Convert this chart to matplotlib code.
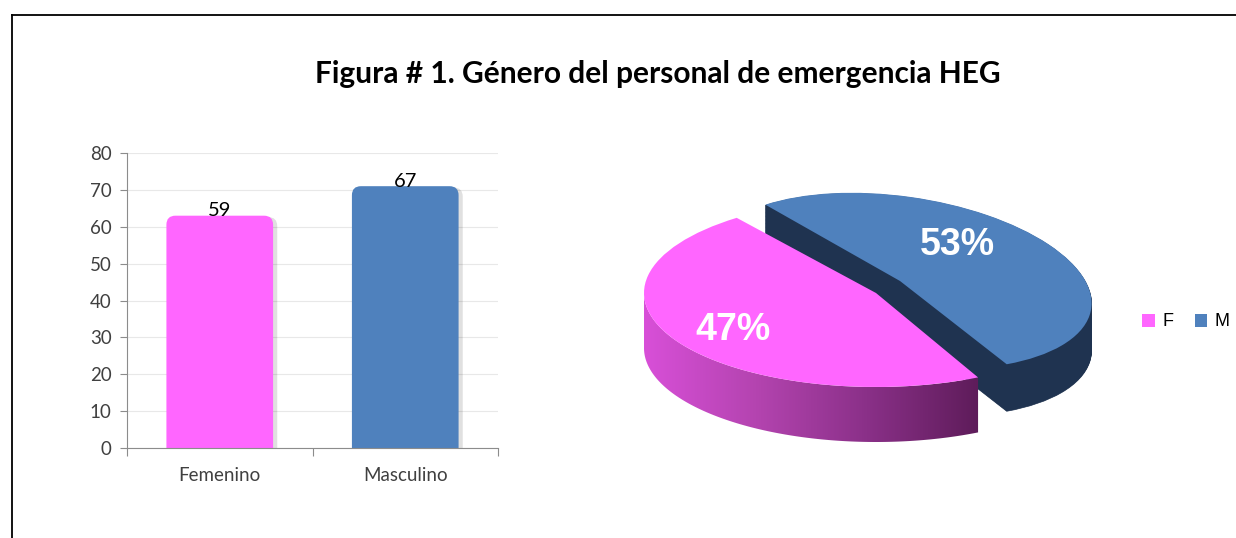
import numpy as np
import matplotlib
matplotlib.use("Agg")
import matplotlib.pyplot as plt
from matplotlib.patches import FancyBboxPatch, Wedge, Polygon
from matplotlib.lines import Line2D
from matplotlib.colors import LinearSegmentedColormap
from matplotlib.transforms import Affine2D
import matplotlib.patheffects as pe

# ---- data ----
title = "Figura # 1. Género del personal de emergencia HEG"
categories = ["Femenino", "Masculino"]
bar_heights = [63, 71]          # drawn bar heights
bar_labels = ["59", "67"]       # data labels shown above bars
yticks = [0, 10, 20, 30, 40, 50, 60, 70, 80]
pie_labels = ["F", "M"]
pie_values = [47, 53]

pink = "#FF66FF"
blue = "#4F81BD"
navy = "#1F3350"
grey_text = "#404040"

W, H = 1236, 538
fig = plt.figure(figsize=(W / 100, H / 100), dpi=100)
fig.patch.set_facecolor("white")

def fx(px):
    return px / W

def fy(py):
    return 1 - py / H

# frame lines
fig.add_artist(Line2D([fx(12), 1.0], [fy(15), fy(15)], color="black", lw=1.3))
fig.add_artist(Line2D([fx(12), fx(12)], [fy(15), 0.0], color="black", lw=1.3))

fig.text(fx(658), fy(74), title, ha="center", va="center",
         fontsize=21.5, fontweight="bold", family=["Lato", "DejaVu Sans"], color="black")

# ---- bar chart ----
axb = fig.add_axes([fx(127), fy(448), fx(498) - fx(127), fy(153) - fy(448)])
x = np.arange(len(categories))
bars = axb.bar(x, bar_heights, width=0.575, color=[pink, blue])
axb.set_xlim(-0.5, 1.5)
axb.set_ylim(0, 80)
fig.canvas.draw()
bb = axb.get_window_extent()
xpx = bb.width / 2.0
ypx = bb.height / 80.0
rad_x = 9 / xpx
aspect = (9 / ypx) / rad_x
for rect, col in zip(bars, [pink, blue]):
    x0, y0 = rect.get_x(), rect.get_y()
    w, h = rect.get_width(), rect.get_height()
    rect.set_visible(False)
    p = FancyBboxPatch((x0, y0 - 5), w, h + 5,
                       boxstyle=f"round,pad=0,rounding_size={rad_x}",
                       mutation_aspect=aspect, facecolor=col, edgecolor="none",
                       zorder=3, clip_on=True)
    p.set_path_effects([pe.SimplePatchShadow(offset=(3, -1), shadow_rgbFace="#000000", alpha=0.12),
                        pe.Normal()])
    axb.add_patch(p)

for xi, h, lab in zip(x, bar_heights, bar_labels):
    axb.text(xi, h - 1.0, lab, ha="center", va="bottom", fontsize=14.5,
             family=["Lato", "DejaVu Sans"], color="black", zorder=5)

axb.set_yticks(yticks)
axb.set_yticklabels([str(t) for t in yticks], fontsize=13.5,
                    family=["Lato", "DejaVu Sans"], color=grey_text)
axb.set_xticks([-0.5, 0.5, 1.5])
axb.set_xticklabels([])
axb.set_xticks(x, minor=True)
axb.set_xticklabels(categories, minor=True, fontsize=13.5,
                    family=["Lato", "DejaVu Sans"], color=grey_text)
axb.tick_params(axis="x", which="major", length=6, color="#8c8c8c", direction="out")
axb.tick_params(axis="x", which="minor", length=0, pad=14)
axb.tick_params(axis="y", length=5, color="#8c8c8c", pad=6)
axb.yaxis.grid(True, color="#e8e8e8", lw=0.8)
axb.set_axisbelow(True)
for s in ["top", "right"]:
    axb.spines[s].set_visible(False)
for s in ["left", "bottom"]:
    axb.spines[s].set_color("#8c8c8c")
    axb.spines[s].set_zorder(4)

# ---- pie chart (pseudo-3D) ----
ax0, ay0, ax1, ay1 = 560, 140, 1130, 500
rx, ry = 232.0, 94.0          # pixel size of one data unit (ellipse squash)
cxp, cyp = 876.0, 293.0       # pixel position of the data origin
axp = fig.add_axes([fx(ax0), fy(ay1), fx(ax1) - fx(ax0), fy(ay0) - fy(ay1)])
wedges, texts, autotexts = axp.pie(
    pie_values, labels=None, colors=[pink, blue], startangle=126.9,
    counterclock=True, autopct="%1.0f%%", pctdistance=0.6,
    wedgeprops=dict(linewidth=0),
    textprops=dict(color="white", fontsize=27, fontweight="bold",
                   family=["Liberation Sans", "DejaVu Sans"]))
axp.set_aspect("auto")
axp.axis("off")
axp.set_xlim(-(cxp - ax0) / rx, (ax1 - cxp) / rx)
axp.set_ylim(-(ay1 - cyp) / ry, (cyp - ay0) / ry)

wp, wb = wedges
# explode + perspective: the back slice is pushed up-right and foreshortened
bc = np.array([24 / rx, 12 / ry])
wb.set_center(tuple(bc))
mid = np.radians((wb.theta1 + wb.theta2) / 2.0)
u = np.array([np.cos(mid), np.sin(mid)])
k = 0.75
M = np.eye(3)
M[:2, :2] = np.eye(2) + (k - 1) * np.outer(u, u)
persp = Affine2D().translate(-bc[0], -bc[1]) + Affine2D(M) + Affine2D().translate(bc[0], bc[1])
wb.set_transform(persp + axp.transData)
wb.set_zorder(3)
wp.set_zorder(6)

# percentage labels placed on their slices
label_px = [(733, 330), (957, 245)]
for t, (lx, ly) in zip(autotexts, label_px):
    t.set_position(((lx - cxp) / rx, (cyp - ly) / ry))
    t.set_zorder(8)

Dp = 55.0 / ry
Db = 47.0 / ry

# blue extrusion (layers)
nl = 60
for kk in range(nl):
    off = -Db * (1 - kk / nl)
    wl = Wedge(wb.center, wb.r, wb.theta1, wb.theta2, facecolor=navy,
               edgecolor=navy, lw=0.5, zorder=2)
    axp.add_patch(wl)
    wl.set_transform(persp + Affine2D().translate(0, off) + axp.transData)

# pink side with gradient
t1 = max(wp.theta1, 180.0)
t2 = min(wp.theta2, 360.0)
th = np.radians(np.linspace(t1, t2, 200))
cx, cy = wp.center
r = wp.r
top = np.column_stack([cx + r * np.cos(th), cy + r * np.sin(th)])
bot = np.column_stack([cx + r * np.cos(th[::-1]), cy + r * np.sin(th[::-1]) - Dp])
poly = Polygon(np.vstack([top, bot]), closed=True, facecolor="none",
               edgecolor="none", zorder=5)
axp.add_patch(poly)
cmap = LinearSegmentedColormap.from_list("pk", ["#d84fd8", "#b444b0", "#8a3088", "#5e1c5a"])
grad = np.linspace(0, 1, 256).reshape(1, -1)
xs = top[:, 0]
im = axp.imshow(grad, cmap=cmap, aspect="auto",
                extent=[xs.min(), xs.max(), cy - r - Dp - 0.05, cy + 0.05],
                zorder=5, interpolation="bilinear")
im.set_clip_path(poly)
axp.set_xlim(-(cxp - ax0) / rx, (ax1 - cxp) / rx)
axp.set_ylim(-(ay1 - cyp) / ry, (cyp - ay0) / ry)

fig.legend(handles=wedges, labels=pie_labels, loc="center",
           bbox_to_anchor=(fx(1186), fy(322)), ncol=2, frameon=False,
           handlelength=0.7, handleheight=0.7, handletextpad=0.4,
           columnspacing=1.2, prop=dict(family=["Liberation Sans", "DejaVu Sans"], size=13))

fig.savefig("out.png", dpi=100, facecolor="white")
